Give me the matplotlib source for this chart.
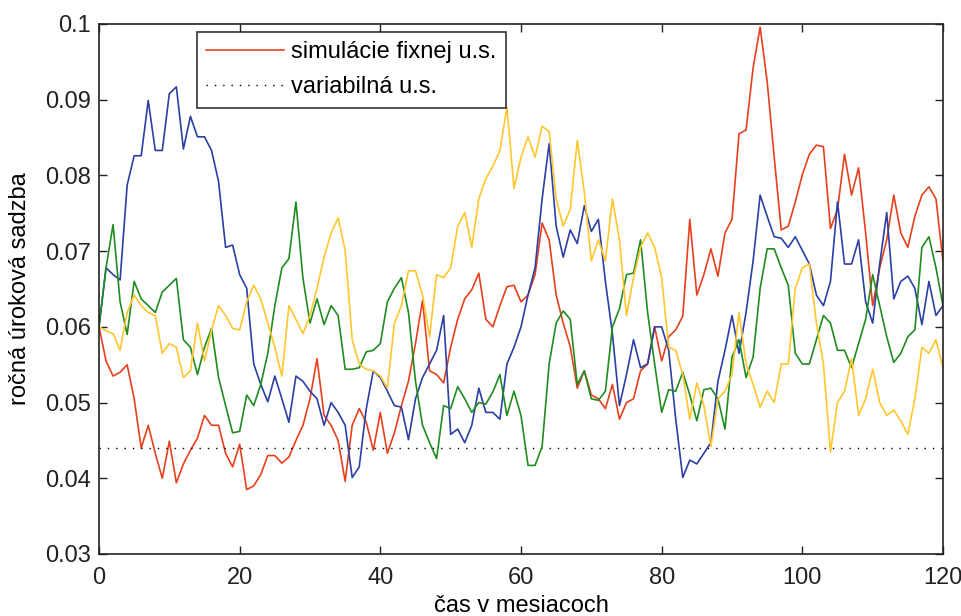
import numpy as np
import matplotlib
matplotlib.use("Agg")
import matplotlib.pyplot as plt

plt.rcParams["font.family"] = ["Liberation Sans", "DejaVu Sans"]

# months 0..120
months = np.arange(121)

# simulated fixed-rate paths
red = [0.060, 0.0555, 0.0535, 0.054, 0.055, 0.0505, 0.044, 0.047, 0.0433, 0.040,
       0.0449, 0.0394, 0.0419, 0.0437, 0.0453, 0.0483, 0.047, 0.047, 0.0433, 0.0415,
       0.0445, 0.0385, 0.039, 0.0405, 0.043, 0.043, 0.042, 0.0428, 0.045, 0.047,
       0.0505, 0.0558, 0.0483, 0.047, 0.045, 0.0396, 0.047, 0.0492, 0.0474, 0.0437,
       0.0487, 0.0433, 0.046, 0.0496, 0.0528, 0.0578, 0.0635, 0.0542, 0.0537, 0.0526,
       0.0573, 0.061, 0.0637, 0.0649, 0.0671, 0.061, 0.060, 0.0628, 0.0653, 0.0655,
       0.0633, 0.0642, 0.0669, 0.0737, 0.0715, 0.0642, 0.0605, 0.0574, 0.0519, 0.0542,
       0.051, 0.0505, 0.0492, 0.0524, 0.0478, 0.050, 0.0505, 0.0542, 0.0551, 0.060,
       0.0555, 0.0587, 0.0596, 0.0614, 0.0742, 0.0642, 0.0669, 0.0703, 0.0667, 0.0724,
       0.0742, 0.0855, 0.086, 0.0942, 0.0996, 0.0924, 0.0824, 0.0728, 0.0733, 0.0765,
       0.0801, 0.0828, 0.084, 0.0838, 0.073, 0.0755, 0.0828, 0.0774, 0.081, 0.0724,
       0.0628, 0.0678, 0.0715, 0.0774, 0.0724, 0.0705, 0.0746, 0.0774, 0.0785, 0.0769,
       0.0687]

blue = [0.060, 0.0678, 0.0669, 0.0662, 0.0787, 0.0826, 0.0826, 0.0899, 0.0833, 0.0833,
        0.0908, 0.0917, 0.0835, 0.0878, 0.0851, 0.0851, 0.0833, 0.0792, 0.0705, 0.0708,
        0.0669, 0.0651, 0.0551, 0.0524, 0.0501, 0.0535, 0.0505, 0.0474, 0.0535, 0.0528,
        0.0515, 0.0505, 0.047, 0.050, 0.0487, 0.047, 0.0401, 0.0415, 0.0492, 0.0542,
        0.0533, 0.0515, 0.0496, 0.0494, 0.0451, 0.0505, 0.0533, 0.0551, 0.0569, 0.0615,
        0.0458, 0.0465, 0.0447, 0.047, 0.0519, 0.0487, 0.0487, 0.0478, 0.0551, 0.0573,
        0.060, 0.0642, 0.0678, 0.0769, 0.0842, 0.0733, 0.0692, 0.0728, 0.071, 0.076,
        0.0726, 0.0742, 0.066, 0.0591, 0.0496, 0.0537, 0.0583, 0.0546, 0.0551, 0.060,
        0.060, 0.0569, 0.0478, 0.0401, 0.0424, 0.0419, 0.0433, 0.0447, 0.0528, 0.0569,
        0.0615, 0.0565, 0.0619, 0.0687, 0.0774, 0.0746, 0.0719, 0.0717, 0.0705, 0.0719,
        0.0701, 0.0683, 0.0642, 0.0628, 0.066, 0.0765, 0.0683, 0.0683, 0.0715, 0.0633,
        0.0605, 0.0683, 0.0751, 0.0637, 0.066, 0.0667, 0.0651, 0.0603, 0.066, 0.0615,
        0.0628]

green = [0.060, 0.0678, 0.0735, 0.0633, 0.059, 0.066, 0.0637, 0.0628, 0.0619, 0.0646,
         0.0655, 0.0664, 0.0583, 0.0573, 0.0537, 0.0573, 0.0598, 0.0533, 0.0496, 0.046,
         0.0462, 0.051, 0.0496, 0.0524, 0.0565, 0.0628, 0.0678, 0.069, 0.0765, 0.0664,
         0.0605, 0.0637, 0.0603, 0.0628, 0.0615, 0.0544, 0.0544, 0.0546, 0.0567, 0.0569,
         0.0578, 0.0633, 0.0651, 0.0665, 0.0619, 0.0528, 0.047, 0.0447, 0.0426, 0.0496,
         0.0492, 0.0521, 0.0505, 0.0487, 0.050, 0.0498, 0.0514, 0.0537, 0.0483, 0.0515,
         0.0483, 0.0417, 0.0417, 0.0442, 0.0551, 0.0605, 0.0621, 0.061, 0.0524, 0.0542,
         0.0505, 0.0503, 0.0515, 0.060, 0.0624, 0.0669, 0.0671, 0.0715, 0.0619, 0.0551,
         0.0487, 0.0517, 0.0515, 0.054, 0.051, 0.0476, 0.0517, 0.0519, 0.0505, 0.0465,
         0.056, 0.0583, 0.0533, 0.056, 0.0651, 0.0703, 0.0703, 0.0678, 0.0655, 0.0565,
         0.0551, 0.0551, 0.0583, 0.0615, 0.0605, 0.0569, 0.0569, 0.0546, 0.0578, 0.061,
         0.0669, 0.0628, 0.0587, 0.0553, 0.0565, 0.0587, 0.0596, 0.0705, 0.0719, 0.0678,
         0.0628]

yellow = [0.060, 0.0595, 0.0591, 0.0569, 0.0619, 0.0642, 0.0628, 0.0619, 0.0615, 0.0565,
          0.0578, 0.0573, 0.0533, 0.0542, 0.0605, 0.0555, 0.0596, 0.0628, 0.0615, 0.0598,
          0.0596, 0.0633, 0.0655, 0.0637, 0.0605, 0.0573, 0.0535, 0.0628, 0.061, 0.0591,
          0.0615, 0.0651, 0.0692, 0.0724, 0.0744, 0.0701, 0.0583, 0.0551, 0.0544, 0.0542,
          0.0535, 0.0519, 0.0605, 0.0628, 0.0674, 0.0674, 0.0642, 0.0587, 0.0669, 0.0665,
          0.0678, 0.0733, 0.0751, 0.0705, 0.0769, 0.0796, 0.0812, 0.0833, 0.089, 0.0783,
          0.0824, 0.0851, 0.0824, 0.0865, 0.0858, 0.0769, 0.0733, 0.0755, 0.0846, 0.0778,
          0.0687, 0.0715, 0.0687, 0.0769, 0.0715, 0.0615, 0.0665, 0.0705, 0.0724, 0.0705,
          0.0665, 0.0573, 0.0569, 0.0537, 0.0478, 0.0526, 0.0496, 0.0442, 0.0505, 0.0515,
          0.0537, 0.0619, 0.0551, 0.0524, 0.0494, 0.0515, 0.050, 0.0551, 0.0551, 0.0651,
          0.0678, 0.0683, 0.0605, 0.0551, 0.0435, 0.050, 0.0515, 0.0558, 0.0483, 0.0505,
          0.0544, 0.050, 0.0483, 0.049, 0.0476, 0.0458, 0.0505, 0.0573, 0.0565, 0.0583,
          0.0546]

# variable rate level
variable_rate = 0.044

fig = plt.figure(figsize=(9.61, 6.16), dpi=100)
ax = fig.add_axes([99 / 961, 1 - 554 / 616, (943 - 99) / 961, (554 - 24) / 616])

ax.plot(months, red, color="#e8401c", lw=1.2, label="simulácie fixnej u.s.")
ax.plot([months[0], months[-1]], [variable_rate, variable_rate], color="black",
        lw=1.0, linestyle=(0, (1, 5)), label="variabilná u.s.")
ax.plot(months, blue, color="#2b3fa5", lw=1.2)
ax.plot(months, green, color="#1f8c1f", lw=1.2)
ax.plot(months, yellow, color="#ffc62e", lw=1.2)

ax.set_xlim(0, 120)
ax.set_ylim(0.03, 0.1)
ax.set_xticks(np.arange(0, 121, 20))
ax.set_yticks([0.03, 0.04, 0.05, 0.06, 0.07, 0.08, 0.09, 0.1])
ax.set_yticklabels(["0.03", "0.04", "0.05", "0.06", "0.07", "0.08", "0.09", "0.1"])
ax.tick_params(direction="in", length=6, width=1, top=True, right=True,
               labelsize=17, pad=6, colors="#222222")
ax.tick_params(axis="x", pad=9)
for s in ax.spines.values():
    s.set_linewidth(1.2)
    s.set_color("#222222")

ax.set_xlabel("čas v mesiacoch", fontsize=17, labelpad=5)
ax.set_ylabel("ročná úroková sadzba", fontsize=17, labelpad=10)

leg = ax.legend(loc="upper left", bbox_to_anchor=(98 / 844, 1 - 8 / 530),
                borderaxespad=0, fontsize=17, frameon=True, fancybox=False,
                edgecolor="black", handlelength=3.3, handletextpad=0.3,
                borderpad=0.4, labelspacing=0.55)
leg.get_frame().set_linewidth(1.2)

plt.savefig("out.png", dpi=100)
